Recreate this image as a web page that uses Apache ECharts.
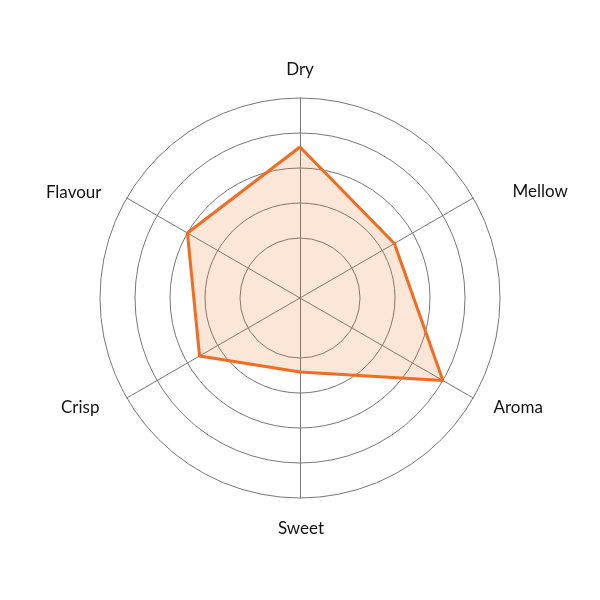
<!DOCTYPE html>
<html>
<head>
<meta charset="utf-8">
<script src="https://cdn.jsdelivr.net/npm/echarts@6/dist/echarts.min.js"></script>
<style>
html,body{margin:0;padding:0;background:#fff;}
#chart{width:600px;height:600px;}
</style>
</head>
<body>
<div id="chart"></div>
<script>
// Categories listed clockwise from the top
const categories = ['Dry', 'Mellow', 'Aroma', 'Sweet', 'Crisp', 'Flavour'];
const values = [72, 48, 80, 28, 52, 60];
const axisMax = 100;

// ECharts lays radar indicators out counter-clockwise, so reverse after the first
const order = [0].concat(categories.map((_, i) => i).slice(1).reverse());
const orderedCats = order.map(i => categories[i]);
const orderedVals = order.map(i => values[i]);

const labelKeys = {Dry:'dry', Mellow:'mellow', Aroma:'aroma', Sweet:'sweet', Crisp:'crisp', Flavour:'flavour'};
const baseLabel = {fontFamily:'Lato', fontSize:17, color:'#111'};
const rich = {
  dry: Object.assign({padding:[0,0,0,0]}, baseLabel),
  mellow: Object.assign({padding:[8,0,0,22]}, baseLabel),
  aroma: Object.assign({padding:[0,0,0,3]}, baseLabel),
  sweet: Object.assign({padding:[2,0,0,2]}, baseLabel),
  crisp: Object.assign({padding:[0,10,0,0]}, baseLabel),
  flavour: Object.assign({padding:[10,8,0,0]}, baseLabel)
};

const indicators = orderedCats.map(n => ({name: n, min: 0, max: axisMax}));

const chart = echarts.init(document.getElementById('chart'), null, {renderer:'canvas'});
chart.setOption({
  backgroundColor: '#fff',
  animation: false,
  radar: [
    {
      center: [300, 298],
      radius: 200,
      startAngle: 90,
      shape: 'circle',
      indicator: indicators,
      nameGap: 20,
      axisName: {
        formatter: (name) => '{' + labelKeys[name] + '|' + name + '}',
        rich: rich,
        fontFamily: 'Lato', fontSize: 17, color: '#111'
      },
      axisLine: {show: true, lineStyle: {color: '#777', width: 1}},
      splitLine: {show: false},
      splitArea: {show: false},
      axisTick: {show: false},
      axisLabel: {show: false}
    },
    {
      center: [300, 298],
      radius: [25, 200],
      startAngle: 90,
      shape: 'circle',
      splitNumber: 5,
      indicator: indicators,
      axisName: {show: false},
      axisLine: {show: false},
      splitLine: {show: true, lineStyle: {color: ['rgba(0,0,0,0)', '#777', '#777', '#777', '#777', '#777'], width: 1}},
      splitArea: {show: false},
      axisTick: {show: false},
      axisLabel: {show: false}
    }
  ],
  series: [{
    type: 'radar',
    radarIndex: 1,
    symbol: 'none',
    lineStyle: {color: '#F26B21', width: 3},
    areaStyle: {color: '#F0771F', opacity: 0.18},
    data: [{value: orderedVals, name: 'Profile'}]
  }]
});
</script>
</body>
</html>
